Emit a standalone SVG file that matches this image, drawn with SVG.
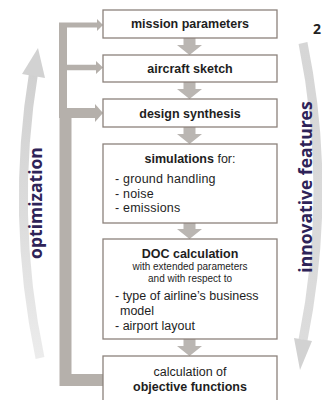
<svg xmlns="http://www.w3.org/2000/svg" width="322" height="400" viewBox="0 0 322 400">
<defs>
<style>
.box{fill:#fff;stroke:#8c827c;stroke-width:1.3}
.t{font-family:"Liberation Sans",Arial,sans-serif;fill:#1e1e1e;font-size:12.5px}
.li{letter-spacing:0.2px}
.b{font-weight:bold}
.c{text-anchor:middle}
.sm{font-size:10px}
.side{font-family:"Open Sans","Liberation Sans",sans-serif;font-weight:bold;fill:#2e2358;font-size:17.5px;text-anchor:middle}
.conn{fill:none;stroke:#b5b0ab}
.blk{fill:#bab6b2}
.hd{fill:#b5b0ab}
</style>
<linearGradient id="gl" x1="0" y1="1" x2="0" y2="0">
<stop offset="0" stop-color="#ececec"/>
<stop offset="0.5" stop-color="#dcdcdc"/>
<stop offset="1" stop-color="#d0d0d0"/>
</linearGradient>
<linearGradient id="gr" x1="0" y1="0" x2="0" y2="1">
<stop offset="0" stop-color="#d6d6d6"/>
<stop offset="1" stop-color="#dcdcdc"/>
</linearGradient>
</defs>
<rect width="322" height="400" fill="#fff"/>
<g id="optimization-arc">
<path d="M40,358 Q10,215 34,70" fill="none" stroke="url(#gl)" stroke-width="9"/>
<path d="M22,74 L38,48 L45,78 z" fill="#d2d2d2"/>
<text class="side" transform="translate(42,203) rotate(-90)">optimization</text>
</g>
<g id="innovative-arc">
<path d="M303,43 Q333,190 303,340" fill="none" stroke="url(#gr)" stroke-width="9"/>
<path d="M294,338 L312,341 L300,370 z" fill="#d2d2d2"/>
<text class="side" transform="translate(312,187) rotate(-90)">innovative features</text>
</g>
<text x="313" y="34" font-family="Open Sans, Liberation Sans, sans-serif" font-weight="bold" font-size="14" fill="#222">2</text>
<g id="connectors">
<path class="conn" d="M63,25 V113" stroke-width="8"/>
<path class="conn" d="M65.5,110 V380 H103" stroke-width="12"/>
<path class="conn" d="M59,25 H98" stroke-width="5"/>
<path class="hd" d="M97,19 L103,25 L97,31 z"/>
<path class="conn" d="M59,67.5 H98" stroke-width="5.5"/>
<path class="hd" d="M96,61 L103,67.5 L96,74 z"/>
<path class="conn" d="M59,113 H96" stroke-width="10"/>
<path class="hd" d="M95,104 L103,113 L95,122 z"/>
<path class="blk" d="M183.5,38 H195.5 V45 H202 L189.5,55 L177,45 H183.5 z"/>
<path class="blk" d="M183.5,82 H195.5 V89 H202 L189.5,99 L177,89 H183.5 z"/>
<path class="blk" d="M183.5,127 H195.5 V134 H202 L189.5,144 L177,134 H183.5 z"/>
<path class="blk" d="M183.5,223 H195.5 V229 H202 L189.5,239 L177,229 H183.5 z"/>
<path class="blk" d="M183.5,339 H195.5 V346 H202 L189.5,356 L177,346 H183.5 z"/>
</g>
<g id="mission">
<rect class="box" x="103" y="10" width="174" height="28"/>
<text class="t b c" x="190" y="28">mission parameters</text>
</g>
<g id="sketch">
<rect class="box" x="103" y="55" width="174" height="27"/>
<text class="t b c" x="190" y="73">aircraft sketch</text>
</g>
<g id="synthesis">
<rect class="box" x="103" y="99" width="174" height="28"/>
<text class="t b c" x="190" y="118">design synthesis</text>
</g>
<g id="simulations">
<rect class="box" x="103" y="144" width="174" height="79"/>
<text class="t c" x="190" y="163"><tspan class="b">simulations</tspan> for:</text>
<text class="t li" x="115" y="183">- ground handling</text>
<text class="t li" x="115" y="197.5">- noise</text>
<text class="t li" x="115" y="212">- emissions</text>
</g>
<g id="doc">
<rect class="box" x="103" y="239" width="174" height="100"/>
<text class="t b c" x="190" y="257.5" font-size="12">DOC calculation</text>
<text class="t c sm" x="190" y="269.5">with extended parameters</text>
<text class="t c sm" x="190" y="281.5">and with respect to</text>
<text class="t" x="115" y="300">- type of airline’s business</text>
<text class="t" x="120" y="314.5">model</text>
<text class="t" x="115" y="329.5">- airport layout</text>
</g>
<g id="objective">
<rect class="box" x="103" y="356" width="174" height="50"/>
<text class="t c" x="190" y="376">calculation of</text>
<text class="t b c" x="190" y="391" font-size="12">objective functions</text>
</g>
</svg>
